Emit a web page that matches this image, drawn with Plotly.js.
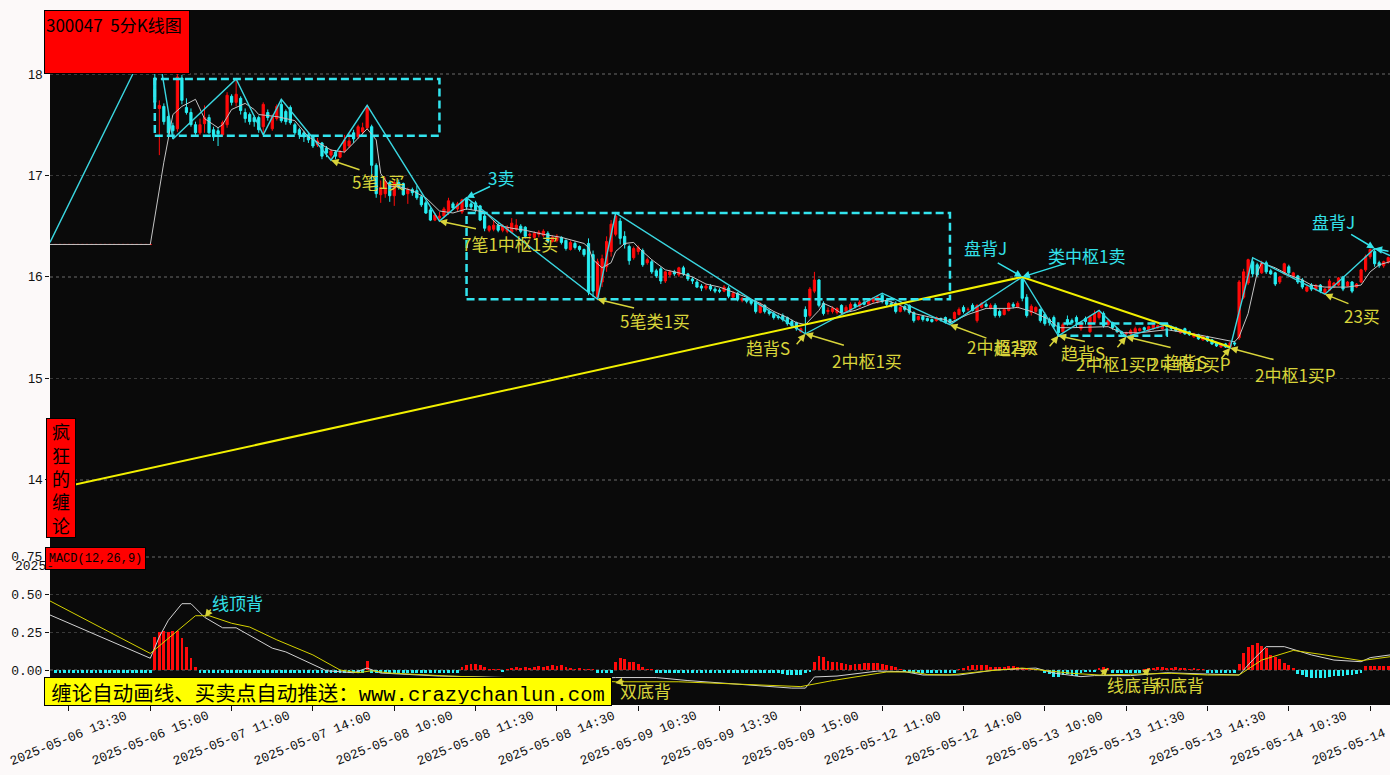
<!DOCTYPE html>
<html><head><meta charset="utf-8">
<script src="https://cdn.plot.ly/plotly-3.0.1.min.js"></script>
<style>html,body{margin:0;padding:0;background:#fcf9f9;}#chart{width:1390px;height:775px;}</style>
</head><body><div id="chart"></div>
<script>
// ---------- categories ----------
const tradeDays = ['2025-05-06','2025-05-07','2025-05-08','2025-05-09','2025-05-12','2025-05-13','2025-05-14'];
const firstBar = '2025-05-06 13:15';
const lastBar = '2025-05-14 13:50';
const tickLabels = ['2025-05-06 13:30','2025-05-06 15:00','2025-05-07 11:00','2025-05-07 14:00','2025-05-08 10:00',
 '2025-05-08 11:30','2025-05-08 14:30','2025-05-09 10:30','2025-05-09 13:30','2025-05-09 15:00','2025-05-12 11:00',
 '2025-05-12 14:00','2025-05-13 10:00','2025-05-13 11:30','2025-05-13 14:30','2025-05-14 10:30','2025-05-14 13:30'];

// ---------- OHLC per day: [open, high, low, close] ----------
const d0506 = [[16.32,16.32,16.32,16.32],[16.32,16.32,16.32,16.32],[16.32,16.32,16.32,16.32],[16.32,16.32,16.32,16.32],
[16.32,16.32,16.32,16.32],[16.32,16.32,16.32,16.32],[16.32,16.32,16.32,16.32],[16.32,16.32,16.32,16.32],
[16.32,16.32,16.32,16.32],[16.32,16.32,16.32,16.32],[16.32,16.32,16.32,16.32],[16.32,16.32,16.32,16.32],
[16.32,16.32,16.32,16.32],[16.32,16.32,16.32,16.32],[16.32,16.32,16.32,16.32],[16.32,16.32,16.32,16.32],
[16.32,16.32,16.32,16.32],[16.32,16.32,16.32,16.32],[16.32,16.32,16.32,16.32],[16.32,16.32,16.32,16.32],
[16.32,16.32,16.32,16.32],[16.32,16.32,16.32,16.32]];
const d0507 = [[17.96,18.44,17.70,17.72],[17.66,17.74,17.20,17.69],[17.68,17.71,17.50,17.53],[17.58,17.62,17.38,17.42],
[17.49,17.52,17.36,17.44],[17.46,18.00,17.43,17.97],[17.96,17.99,17.70,17.74],[17.67,17.76,17.60,17.62],
[17.62,17.66,17.48,17.50],[17.50,17.53,17.40,17.42],[17.42,17.56,17.40,17.50],[17.51,17.69,17.42,17.57],
[17.57,17.60,17.41,17.42],[17.45,17.48,17.34,17.38],[17.44,17.47,17.29,17.41],[17.40,17.54,17.38,17.52],
[17.50,17.82,17.47,17.79],[17.78,17.80,17.69,17.72],[17.72,17.95,17.68,17.80],[17.76,17.78,17.60,17.64],
[17.62,17.66,17.52,17.56],[17.60,17.62,17.50,17.53],[17.57,17.59,17.48,17.53],[17.57,17.59,17.42,17.45],
[17.48,17.72,17.40,17.70],[17.62,17.65,17.54,17.57],[17.46,17.60,17.44,17.58],[17.56,17.70,17.54,17.68],
[17.70,17.75,17.52,17.54],[17.63,17.65,17.50,17.53],[17.67,17.69,17.50,17.52],[17.50,17.52,17.40,17.42],
[17.45,17.47,17.36,17.40],[17.42,17.44,17.33,17.38],[17.40,17.42,17.32,17.35],[17.39,17.40,17.27,17.29],
[17.30,17.37,17.28,17.34],[17.32,17.33,17.16,17.19],[17.27,17.29,17.18,17.22],[17.20,17.26,17.15,17.24],
[17.23,17.25,17.16,17.19],[17.18,17.25,17.17,17.23],[17.24,17.40,17.22,17.35],[17.29,17.42,17.27,17.34],
[17.42,17.45,17.32,17.36],[17.38,17.50,17.36,17.48],[17.43,17.52,17.40,17.47],[17.47,17.69,17.45,17.68]];
const d0508 = [[17.48,17.50,16.95,17.10],[17.10,17.12,16.78,16.82],[16.81,16.95,16.73,16.88],[16.82,16.98,16.78,16.94],
[16.93,16.95,16.74,16.80],[16.80,16.95,16.70,16.93],[16.93,16.96,16.86,16.88],[16.92,16.93,16.80,16.81],
[16.82,16.88,16.72,16.86],[16.86,16.88,16.80,16.83],[16.85,16.90,16.76,16.78],[16.79,16.81,16.69,16.71],
[16.73,16.75,16.62,16.63],[16.66,16.68,16.55,16.56],[16.56,16.63,16.55,16.61],[16.58,16.64,16.55,16.60],
[16.60,16.69,16.58,16.67],[16.63,16.78,16.61,16.75],[16.72,16.74,16.66,16.68],[16.67,16.74,16.65,16.72],
[16.64,16.77,16.62,16.76],[16.77,16.78,16.66,16.69],[16.72,16.74,16.66,16.69],[16.73,16.75,16.64,16.66],
[16.70,16.71,16.55,16.56],[16.60,16.62,16.45,16.48],[16.46,16.51,16.44,16.50],[16.47,16.56,16.45,16.51],
[16.51,16.53,16.44,16.46],[16.46,16.52,16.44,16.50],[16.45,16.51,16.43,16.49],[16.44,16.58,16.43,16.53],
[16.47,16.57,16.45,16.51],[16.50,16.52,16.43,16.45],[16.49,16.50,16.38,16.40],[16.41,16.44,16.37,16.42],
[16.39,16.45,16.37,16.43],[16.42,16.46,16.39,16.44],[16.41,16.47,16.39,16.45],[16.43,16.45,16.33,16.35],
[16.35,16.41,16.34,16.39],[16.36,16.42,16.34,16.40],[16.39,16.40,16.32,16.34],[16.36,16.37,16.26,16.28],
[16.27,16.36,16.26,16.34],[16.33,16.35,16.27,16.29],[16.30,16.31,16.25,16.27],[16.27,16.28,16.20,16.22]];
const d0509 = [[16.33,16.38,15.82,15.85],[16.22,16.26,15.80,15.86],[15.80,16.18,15.78,16.15],[15.95,16.22,15.90,16.18],
[16.10,16.40,16.05,16.35],[16.25,16.56,16.20,16.52],[16.42,16.63,16.40,16.60],[16.55,16.58,16.32,16.38],
[16.40,16.45,16.28,16.32],[16.30,16.32,16.12,16.16],[16.19,16.30,16.17,16.28],[16.25,16.31,16.22,16.29],
[16.26,16.28,16.10,16.12],[16.14,16.19,16.12,16.17],[16.15,16.17,16.03,16.05],[16.06,16.08,15.99,16.01],
[16.08,16.10,15.93,15.96],[15.96,16.06,15.94,16.05],[16.02,16.07,16.00,16.05],[16.05,16.07,16.01,16.03],
[16.02,16.10,16.00,16.09],[16.09,16.11,16.01,16.03],[16.03,16.04,15.96,15.98],[15.98,16.00,15.93,15.96],
[15.95,15.97,15.89,15.90],[15.91,15.93,15.86,15.89],[15.89,15.93,15.87,15.91],[15.91,15.93,15.86,15.88],
[15.88,15.90,15.84,15.86],[15.87,15.89,15.84,15.86],[15.86,15.92,15.85,15.90],[15.89,15.91,15.79,15.81],
[15.80,15.86,15.79,15.84],[15.84,15.85,15.76,15.78],[15.77,15.80,15.75,15.79],[15.79,15.80,15.74,15.76],
[15.77,15.78,15.72,15.74],[15.75,15.77,15.64,15.66],[15.65,15.75,15.64,15.73],[15.72,15.73,15.64,15.66],
[15.66,15.68,15.62,15.64],[15.64,15.66,15.58,15.60],[15.61,15.63,15.58,15.60],[15.62,15.64,15.56,15.58],
[15.60,15.61,15.52,15.54],[15.56,15.58,15.50,15.52],[15.55,15.56,15.47,15.49],[15.46,15.50,15.45,15.49]];
const d0512 = [[15.68,15.71,15.44,15.61],[15.62,15.90,15.60,15.88],[15.86,16.05,15.84,15.97],[15.97,15.98,15.70,15.72],
[15.74,15.76,15.62,15.64],[15.66,15.70,15.63,15.67],[15.66,15.71,15.64,15.69],[15.65,15.70,15.63,15.69],
[15.72,15.73,15.64,15.65],[15.66,15.72,15.65,15.70],[15.67,15.75,15.66,15.73],[15.73,15.75,15.69,15.71],
[15.71,15.77,15.70,15.75],[15.75,15.77,15.72,15.73],[15.73,15.79,15.72,15.78],[15.76,15.80,15.74,15.79],
[15.76,15.82,15.74,15.80],[15.82,15.84,15.74,15.76],[15.77,15.79,15.71,15.73],[15.74,15.76,15.70,15.72],
[15.74,15.76,15.64,15.66],[15.66,15.72,15.65,15.70],[15.71,15.72,15.66,15.68],[15.72,15.73,15.63,15.65],
[15.65,15.66,15.55,15.57],[15.58,15.62,15.57,15.61],[15.61,15.62,15.56,15.58],[15.59,15.60,15.56,15.57],
[15.58,15.59,15.55,15.56],[15.57,15.61,15.56,15.60],[15.59,15.60,15.56,15.58],[15.60,15.61,15.54,15.55],
[15.58,15.59,15.53,15.55],[15.59,15.66,15.58,15.65],[15.63,15.70,15.62,15.68],[15.70,15.72,15.64,15.66],
[15.68,15.70,15.66,15.68],[15.72,15.74,15.66,15.67],[15.57,15.73,15.55,15.72],[15.70,15.75,15.69,15.74],
[15.73,15.75,15.70,15.71],[15.69,15.74,15.68,15.72],[15.72,15.74,15.60,15.62],[15.66,15.68,15.60,15.62],
[15.63,15.69,15.62,15.68],[15.67,15.75,15.66,15.74],[15.73,15.75,15.69,15.71],[15.70,15.76,15.69,15.74]];
const d0513 = [[15.98,16.00,15.76,15.79],[15.80,15.83,15.60,15.62],[15.65,15.73,15.62,15.71],[15.66,15.71,15.64,15.70],
[15.68,15.69,15.55,15.57],[15.63,15.65,15.52,15.54],[15.58,15.60,15.52,15.55],[15.60,15.62,15.49,15.51],
[15.51,15.53,15.42,15.45],[15.46,15.55,15.45,15.53],[15.58,15.62,15.52,15.55],[15.57,15.59,15.53,15.55],
[15.60,15.62,15.50,15.56],[15.49,15.56,15.47,15.54],[15.59,15.61,15.53,15.56],[15.46,15.62,15.45,15.61],
[15.55,15.67,15.54,15.64],[15.60,15.67,15.58,15.65],[15.64,15.66,15.50,15.52],[15.53,15.58,15.52,15.57],
[15.55,15.56,15.48,15.50],[15.49,15.50,15.45,15.46],[15.46,15.47,15.43,15.44],[15.44,15.46,15.41,15.45],
[15.44,15.49,15.43,15.47],[15.45,15.51,15.44,15.49],[15.47,15.50,15.46,15.49],[15.50,15.51,15.46,15.48],
[15.47,15.52,15.46,15.51],[15.49,15.54,15.48,15.53],[15.50,15.53,15.49,15.52],[15.49,15.54,15.48,15.54],
[15.54,15.54,15.50,15.51],[15.51,15.52,15.47,15.49],[15.50,15.51,15.46,15.47],[15.45,15.49,15.44,15.48],
[15.49,15.50,15.43,15.44],[15.46,15.47,15.42,15.43],[15.41,15.45,15.40,15.44],[15.43,15.44,15.38,15.39],
[15.38,15.42,15.37,15.41],[15.41,15.42,15.36,15.37],[15.38,15.39,15.33,15.34],[15.35,15.36,15.31,15.32],
[15.31,15.35,15.30,15.34],[15.34,15.35,15.30,15.31],[15.31,15.36,15.30,15.35],[15.35,15.37,15.32,15.34]];
const d0514 = [[15.40,15.97,15.38,15.95],[15.80,16.08,15.78,16.05],[15.94,16.18,15.92,16.17],[16.15,16.19,16.00,16.03],
[16.12,16.14,16.00,16.02],[16.04,16.16,16.03,16.14],[16.14,16.16,16.03,16.05],[16.06,16.08,16.02,16.03],
[16.04,16.05,15.91,15.93],[15.95,16.01,15.93,16.00],[16.03,16.14,16.02,16.13],[16.10,16.12,16.02,16.04],
[16.00,16.05,15.98,16.04],[16.01,16.02,15.93,15.95],[15.97,15.99,15.88,15.90],[15.86,15.91,15.85,15.90],
[15.92,15.94,15.86,15.88],[15.88,15.93,15.86,15.91],[15.92,15.93,15.84,15.86],[15.84,15.89,15.83,15.88],
[15.87,15.98,15.86,15.96],[15.90,15.95,15.89,15.94],[15.92,16.00,15.91,15.99],[16.00,16.01,15.86,15.88],
[15.91,15.96,15.90,15.95],[15.95,15.96,15.84,15.86],[15.90,15.94,15.89,15.93],[15.95,16.08,15.94,16.07],
[16.07,16.22,16.05,16.20],[16.20,16.28,16.18,16.27],[16.25,16.28,16.10,16.13],[16.14,16.16,16.09,16.11],
[16.11,16.16,16.09,16.15],[16.15,16.20,16.13,16.19]];

// ---------- moving average line (read at sample bars) ----------
const maIdx = [-1.2,21,24,26,28,31,33,36,37,39,42,44,45,49,53,56,61,64,66,69,71,72,74,76,79,82,85,88,91,95,98,101,104,108,112,115,117,118,119,121,123,124,126,128,129,132,135,138,141,144,147,150,153,156,159,162,164,166,169,170,172,174,177,181,184,187,190,194,197,198,202,206,211,213,216,220,222,225,230,233,236,240,246,253,261,262,264,266,267,270,273,276,278,281,286,289,291,293,295.4];
const maVal = [16.32,16.32,17.13,17.60,17.68,17.75,17.56,17.47,17.50,17.65,17.71,17.65,17.60,17.58,17.54,17.38,17.25,17.23,17.32,17.46,17.35,17.02,16.89,16.89,16.85,16.78,16.65,16.63,16.67,16.64,16.51,16.48,16.46,16.42,16.39,16.35,16.33,16.29,16.17,16.09,16.14,16.25,16.33,16.34,16.29,16.17,16.07,16.04,16.00,15.93,15.90,15.85,15.80,15.74,15.66,15.60,15.55,15.53,15.67,15.74,15.70,15.64,15.67,15.74,15.77,15.72,15.64,15.60,15.58,15.55,15.63,15.69,15.69,15.70,15.66,15.58,15.50,15.50,15.51,15.51,15.45,15.45,15.48,15.43,15.36,15.41,15.64,16.04,16.14,16.09,16.02,15.97,15.92,15.90,15.90,15.92,16.05,16.12,16.15];

// ---------- strokes (bi), segment, pivots ----------
const biIdx = [-1.2,22,26,40,46,50,61,69,85,91,120,124,166,183,198,214,222,231,237,246,260,265,281,292,295.4];
const biVal = [16.34,18.44,17.36,17.95,17.40,17.75,17.15,17.69,16.55,16.78,15.78,16.63,15.44,15.84,15.53,16.00,15.42,15.67,15.41,15.53,15.30,16.19,15.83,16.28,16.21];
const segIdx = [-1.2,214,260];
const segVal = [13.90,16.00,15.31];
const zsFrom = [22,91,222];
const zsTo = [85,198,246];
const zsHigh = [17.95,16.63,15.54];
const zsLow = [17.39,15.78,15.42];

// ---------- MACD ----------
const difIdx = [-1.2,21,23,25,28,30,33,37,40,43,46,48,51,57,60,66,69,72,85,100,115,124,133,140,150,163,166,168,173,182,188,192,200,208,217,221,227,230,238,246,255,262,265,268,272,278,283,289,291,295.4];
const difVal = [0.365,0.078,0.22,0.33,0.44,0.44,0.35,0.28,0.28,0.23,0.18,0.145,0.12,0.033,-0.005,-0.018,0.013,-0.02,-0.04,-0.05,-0.06,-0.05,-0.05,-0.07,-0.09,-0.12,-0.12,-0.046,-0.04,-0.007,-0.011,-0.033,-0.033,0,0.013,-0.02,-0.044,-0.037,-0.037,-0.018,-0.027,-0.033,0.066,0.155,0.155,0.10,0.066,0.055,0.082,0.10];
const deaIdx = [-1.2,21,31,34,39,43,49,57,63,67,70,74,87,105,124,138,154,165,172,184,190,193,198,206,214,219,225,231,238,247,255,262,267,274,281,289,295.4];
const deaVal = [0.458,0.11,0.36,0.36,0.31,0.285,0.20,0.10,0,-0.018,-0.005,-0.02,-0.04,-0.06,-0.078,-0.078,-0.095,-0.11,-0.07,-0.013,-0.013,-0.03,-0.033,-0.007,0.013,-0.005,-0.022,-0.033,-0.027,-0.022,-0.033,-0.033,0.066,0.13,0.10,0.062,0.088];
const macdHist = [
-0.02,-0.02,-0.02,-0.02,-0.02,-0.02,-0.02,-0.02,-0.02,-0.02,-0.02,-0.02,-0.02,-0.02,-0.02,-0.02,-0.02,-0.02,-0.02,-0.02,-0.02,-0.02,
0.22,0.255,0.26,0.255,0.26,0.26,0.21,0.15,0.08,0.02,
-0.02,-0.02,-0.02,-0.02,-0.02,-0.02,-0.02,-0.02,-0.02,-0.02,-0.02,-0.02,-0.02,-0.02,-0.02,-0.02,-0.02,-0.02,-0.02,-0.02,-0.02,-0.02,-0.02,-0.02,-0.02,-0.02,-0.02,-0.02,-0.02,-0.02,-0.02,-0.02,-0.02,-0.02,-0.02,-0.02,-0.02,
0.062,
-0.02,-0.02,-0.02,-0.02,-0.02,-0.02,-0.02,-0.02,-0.02,-0.02,-0.02,-0.02,-0.02,-0.02,-0.02,-0.02,-0.02,-0.02,-0.02,-0.02,
0.02,0.03,0.04,0.04,0.03,0.02,0.01,0.01,0.01,
-0.01,
0.01,0.015,0.02,0.015,0.02,0.015,0.02,0.025,0.02,0.025,0.03,0.025,0.03,0.02,0.015,0.01,0.015,0.01,0.005,0.005,
-0.02,-0.02,-0.02,-0.02,
0.05,0.08,0.075,0.05,0.05,0.04,0.02,0.01,0.005,
-0.02,-0.02,-0.02,-0.02,-0.02,-0.02,-0.02,-0.02,-0.02,-0.02,-0.02,-0.02,-0.02,-0.02,-0.02,-0.02,-0.02,-0.02,-0.02,-0.02,-0.02,-0.02,-0.02,-0.02,-0.02,-0.02,-0.02,-0.02,
-0.025,-0.03,-0.03,-0.03,-0.03,-0.02,
-0.01,
0.05,0.093,0.084,0.062,0.055,0.05,0.044,0.04,0.033,0.04,0.04,0.044,0.044,0.044,0.044,0.04,0.033,0.027,0.018,0.01,
-0.01,-0.01,
-0.02,-0.02,-0.02,-0.02,-0.02,-0.02,-0.02,-0.02,-0.02,-0.02,
0.007,0.015,0.027,0.033,0.033,0.033,0.033,0.022,0.02,0.018,0.022,0.027,0.027,0.022,0.015,0.015,0.007,0.005,0.003,
-0.017,-0.025,-0.044,-0.049,-0.035,-0.025,-0.035,-0.04,-0.02,-0.015,-0.01,
-0.01,
0.015,0.02,0.015,
-0.02,-0.02,-0.02,-0.02,-0.02,-0.02,-0.02,
0.01,0.015,0.015,0.02,0.02,0.015,0.015,0.02,0.015,0.015,0.01,0.015,0.01,0.005,
-0.02,-0.02,-0.02,-0.02,-0.02,-0.02,-0.02,
0.04,0.11,0.15,0.167,0.177,0.16,0.145,0.1,0.084,0.07,0.044,0.033,0.011,
-0.027,-0.03,-0.044,-0.05,-0.055,-0.055,-0.05,-0.044,-0.04,-0.04,-0.04,-0.035,-0.035,-0.025,-0.02,
0.027,0.027,0.027,0.027,0.027,0.027];

// ---------- build time axis ----------
function sessionSlots(){
  const s=[];
  for(let m=9*60+35;m<=11*60+30;m+=5)s.push(m);
  for(let m=13*60+5;m<=15*60;m+=5)s.push(m);
  return s.map(m=>String(Math.floor(m/60)).padStart(2,'0')+':'+String(m%60).padStart(2,'0'));
}
const allTimes=[];
tradeDays.forEach(d=>sessionSlots().forEach(t=>allTimes.push(d+' '+t)));
const times = allTimes.slice(allTimes.indexOf(firstBar), allTimes.indexOf(lastBar)+1);
const bars = [].concat(d0506,d0507,d0508,d0509,d0512,d0513,d0514);
const idx = times.map((t,i)=>i);
const tickIdx = tickLabels.map(l=>times.indexOf(l));

const RED='#ff0a0a', CYAN='#27eef2', YEL='#d8d43a', CYT='#33e2ea';

const traces = [
 {type:'scatter',mode:'lines',x:maIdx,y:maVal,line:{color:'#c4c4c4',width:1},hoverinfo:'skip',xaxis:'x',yaxis:'y'},
 {type:'candlestick',x:idx,open:bars.map(b=>b[0]),high:bars.map(b=>b[1]),low:bars.map(b=>b[2]),close:bars.map(b=>b[3]),
  increasing:{line:{color:RED,width:1},fillcolor:RED},decreasing:{line:{color:CYAN,width:1},fillcolor:CYAN},
  whiskerwidth:0,hoverinfo:'skip',xaxis:'x',yaxis:'y'},
 {type:'scatter',mode:'lines',x:biIdx,y:biVal,line:{color:'#3ad6e0',width:1.4},hoverinfo:'skip',xaxis:'x',yaxis:'y'},
 {type:'scatter',mode:'lines',x:segIdx,y:segVal,line:{color:'#f2f000',width:2},hoverinfo:'skip',xaxis:'x',yaxis:'y'},
 {type:'bar',x:idx,y:macdHist,marker:{color:macdHist.map(v=>v>=0?RED:CYAN),line:{width:0}},width:0.62,hoverinfo:'skip',xaxis:'x',yaxis:'y2'},
 {type:'scatter',mode:'lines',x:difIdx,y:difVal,line:{color:'#d2d2d2',width:1},hoverinfo:'skip',xaxis:'x',yaxis:'y2'},
 {type:'scatter',mode:'lines',x:deaIdx,y:deaVal,line:{color:'#d6d200',width:1},hoverinfo:'skip',xaxis:'x',yaxis:'y2'}
];

const shapes = zsFrom.map((f,k)=>({type:'rect',xref:'x',yref:'y',x0:f,x1:zsTo[k],y0:zsLow[k],y1:zsHigh[k],
  line:{color:'#33e4ee',width:2.5,dash:'8px,4px'},fillcolor:'rgba(0,0,0,0)'}));

const CJK='Noto Sans CJK SC';
function lbl(text,x,y,color,yref){return {xref:'x',yref:yref||'y',x:x,y:y,text:text,showarrow:false,font:{family:CJK,size:17,color:color}};}
function arr(x,y,ax,ay,color,yref){return {xref:'x',yref:yref||'y',x:x,y:y,ax:ax,ay:ay,text:'',showarrow:true,arrowhead:2,arrowsize:1,arrowwidth:1.5,arrowcolor:color,standoff:0};}

const annotations = [
 lbl('5笔1买',71.4,16.94,YEL), arr(61,17.15,30,10,YEL),
 lbl('3卖',98.6,16.98,CYT), arr(91,16.78,25,-12,CYT),
 lbl('7笔1中枢1买',100.6,16.33,YEL), arr(85,16.55,38,8,YEL),
 lbl('5笔类1买',132.7,15.57,YEL), arr(120,15.78,38,9,YEL),
 lbl('趋背S',157.7,15.30,YEL), arr(166,15.44,-10,12,YEL),
 lbl('2中枢1买',179.7,15.18,YEL), arr(166,15.44,40,12,YEL),
 lbl('盘背J',205.8,16.29,CYT), arr(214,16.00,-26,-15,CYT),
 lbl('类中枢1卖',228.2,16.21,CYT), arr(214,16.00,45,-14,CYT),
 lbl('2中枢2买',209.6,15.31,YEL), arr(198,15.53,38,14,YEL),
 lbl('趋背X',212.7,15.30,YEL), arr(222,15.42,-10,12,YEL),
 lbl('趋背S',227.5,15.26,YEL), arr(237,15.41,-10,12,YEL),
 lbl('2中枢1买P',234.8,15.15,YEL), arr(222,15.42,28,6,YEL),
 lbl('2中枢1买P',251.2,15.15,YEL), arr(237,15.41,46,11,YEL),
 lbl('趋背S',250.0,15.17,YEL), arr(260,15.30,-10,12,YEL),
 lbl('2中枢1买P',274.4,15.04,YEL), arr(260,15.30,45,12,YEL),
 lbl('23买',289.3,15.62,YEL), arr(281,15.83,25,10,YEL),
 lbl('盘背J',282.8,16.55,CYT), arr(292,16.28,-25,-15,CYT), arr(292,16.28,24,3,CYT),
 lbl('线顶背',40.2,0.445,CYT,'y2'), arr(33.1,0.352,7,-9,YEL,'y2'),
 lbl('双底背',130.5,-0.139,YEL,'y2'), arr(123.9,-0.086,10,-2,YEL,'y2'),
 lbl('线底背',238.3,-0.093,YEL,'y2'), arr(233,0.013,-8,8,YEL,'y2'),
 lbl('积底背',248.5,-0.093,YEL,'y2'), arr(242.3,0.013,-8,8,YEL,'y2'),
 // boxes
 {xref:'paper',yref:'paper',x:-0.00448,y:1.0,xanchor:'left',yanchor:'top',text:'300047\u00a0\u00a05分K线图',showarrow:false,
  align:'left',valign:'top',width:142,height:60,bgcolor:'#ff0000',bordercolor:'#000',borderwidth:1,borderpad:1,
  font:{family:CJK,size:17,color:'#000'}},
 {xref:'paper',yref:'paper',x:0.0082,y:0.3266,xanchor:'center',yanchor:'middle',text:'疯<br>狂<br>的<br>缠<br>论',showarrow:false,
  width:26,height:116,bgcolor:'#ff0000',bordercolor:'#000',borderwidth:1,borderpad:1,font:{family:CJK,size:18,color:'#000'}},
 {xref:'paper',yref:'paper',x:0.034,y:0.2101,xanchor:'center',yanchor:'middle',text:'MACD(12,26,9)',showarrow:false,
  width:97,height:19,bgcolor:'#ff0000',bordercolor:'#000',borderwidth:1,borderpad:1,font:{family:'Liberation Mono',size:12,color:'#000'}},
 {xref:'paper',yref:'paper',x:0.2075,y:0.0194,xanchor:'center',yanchor:'middle',
  text:'缠论自动画线、买卖点自动推送：<span style="font-family:Liberation Mono">www.crazychanlun.com</span>',showarrow:false,
  width:564,height:25,bgcolor:'#ffff00',bordercolor:'#000',borderwidth:1,borderpad:1,font:{family:CJK,size:20.5,color:'#000'}},
 {xref:'paper',yref:'paper',x:-0.0112,y:0.1986,xanchor:'center',yanchor:'middle',text:'2025-',showarrow:false,
  font:{family:'Liberation Mono',size:13,color:'#111'}}
];
tickLabels.forEach((t,k)=>annotations.push({xref:'x',yref:'paper',x:tickIdx[k],y:-0.048,xanchor:'center',yanchor:'middle',
  text:t,textangle:-22,showarrow:false,font:{family:'Liberation Mono',size:13,color:'#111'}}));

const layout = {
  width:1390,height:775,margin:{l:50,r:0,t:10,b:70},
  paper_bgcolor:'#fcf9f9',plot_bgcolor:'#0a0a0a',showlegend:false,
  xaxis:{range:[-1.2,295.4],anchor:'y2',showticklabels:false,tickvals:tickIdx,ticks:'outside',ticklen:5,tickcolor:'#111',
    showgrid:false,zeroline:false,showline:false,rangeslider:{visible:false},fixedrange:true},
  yaxis:{domain:[0.2187,1],range:[13.28,18.63],tickvals:[14,15,16,17,18],ticks:'outside',ticklen:4,tickcolor:'#111',
    gridcolor:'#3a3a3a',griddash:'dot',gridwidth:1.2,zeroline:false,showline:false,
    tickfont:{family:'Liberation Sans',size:13,color:'#111'}},
  yaxis2:{domain:[0,0.2187],range:[-0.232,0.776],tickvals:[0,0.25,0.5,0.75],ticktext:['0.00','0.25','0.50','0.75'],
    ticks:'outside',ticklen:4,tickcolor:'#111',gridcolor:'#3a3a3a',griddash:'dot',gridwidth:1.2,zeroline:false,showline:false,
    tickfont:{family:'Liberation Mono',size:13,color:'#111'}},
  shapes:shapes,annotations:annotations,bargap:0
};
Plotly.newPlot('chart',traces,layout,{displayModeBar:false,staticPlot:true});
</script>
</body></html>
